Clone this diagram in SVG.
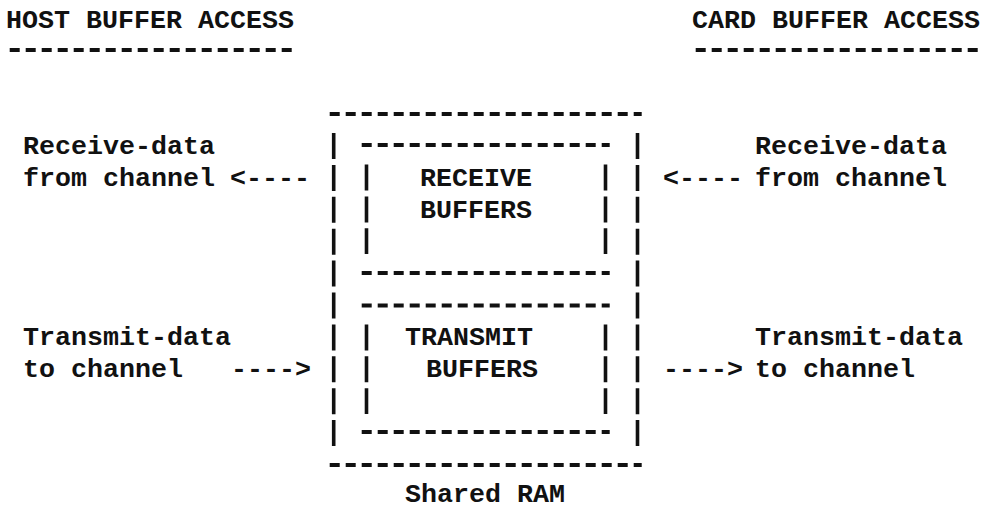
<svg xmlns="http://www.w3.org/2000/svg" width="985" height="510" viewBox="0 0 985 510">
<style>
text{font-family:"Liberation Mono","DejaVu Sans Mono",monospace;font-size:26.67px;font-weight:bold;fill:#111;}
.h{stroke:#111;stroke-width:4;stroke-dasharray:10 6;fill:none;}
.v{stroke:#111;stroke-width:3.6;stroke-dasharray:26 5.9;fill:none;}
</style>
<rect width="985" height="510" fill="#fff"/>
<g id="host-header">
<text x="6" y="28">HOST BUFFER ACCESS</text>
<line class="h" x1="9.7" y1="50" x2="291.7" y2="50"/>
</g>
<g id="card-header">
<text x="692" y="28">CARD BUFFER ACCESS</text>
<line class="h" x1="695.7" y1="50" x2="977.7" y2="50"/>
</g>
<g id="host-receive">
<text x="23" y="154">Receive-data</text>
<text x="23" y="186">from channel</text>
</g>
<g id="host-transmit">
<text x="23" y="345">Transmit-data</text>
<text x="23" y="377">to channel</text>
</g>
<g id="card-receive">
<text x="755" y="154">Receive-data</text>
<text x="755" y="186">from channel</text>
</g>
<g id="card-transmit">
<text x="755" y="345">Transmit-data</text>
<text x="755" y="377">to channel</text>
</g>
<g id="shared-ram">
<line class="h" x1="329.7" y1="114" x2="641.7" y2="114"/>
<line class="h" x1="329.7" y1="465" x2="641.7" y2="465"/>
<line class="v" x1="333.7" y1="133" x2="333.7" y2="446"/>
<line class="v" x1="637.5" y1="133" x2="637.5" y2="446"/>
<text x="405" y="502">Shared RAM</text>
</g>
<g id="receive-buffers">
<line class="h" x1="361.7" y1="145" x2="609.7" y2="145"/>
<line class="h" x1="361.7" y1="273" x2="609.7" y2="273"/>
<line class="v" x1="366.5" y1="164.5" x2="366.5" y2="254"/>
<line class="v" x1="605.5" y1="164.5" x2="605.5" y2="254"/>
<text x="420" y="186">RECEIVE</text>
<text x="420" y="218">BUFFERS</text>
</g>
<g id="transmit-buffers">
<line class="h" x1="361.7" y1="305.5" x2="609.7" y2="305.5"/>
<line class="h" x1="361.7" y1="432" x2="609.7" y2="432"/>
<line class="v" x1="366.5" y1="324.4" x2="366.5" y2="414"/>
<line class="v" x1="605.5" y1="324.4" x2="605.5" y2="414"/>
<text x="405" y="345">TRANSMIT</text>
<text x="426" y="377">BUFFERS</text>
</g>
<g id="connectors">
<text x="230" y="186">&lt;----</text>
<text x="663" y="186">&lt;----</text>
<text x="231" y="377">----&gt;</text>
<text x="663" y="377">----&gt;</text>
</g>
</svg>
